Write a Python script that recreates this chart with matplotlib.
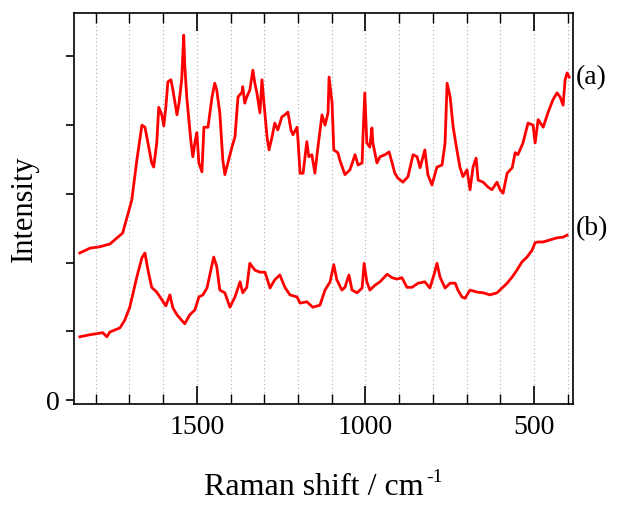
import numpy as np
import matplotlib
matplotlib.use("Agg")
import matplotlib.pyplot as plt
from matplotlib.ticker import MultipleLocator

plt.rcParams['font.family'] = ['Liberation Serif', 'DejaVu Serif']

# spectrum (a): Raman shift (cm-1), intensity
shift_a = [1847, 1817, 1788, 1758, 1720, 1693, 1678, 1663, 1654, 1645, 1634, 1628, 1619, 1613,
           1604, 1598, 1592, 1586, 1577, 1571, 1559, 1553, 1545, 1539, 1536, 1530, 1518, 1512,
           1506, 1500, 1494, 1485, 1479, 1467, 1455, 1447, 1441, 1432, 1423, 1417, 1408, 1396,
           1387, 1378, 1366, 1364, 1358, 1352, 1343, 1334, 1328, 1322, 1313, 1307, 1301, 1292,
           1286, 1277, 1269, 1260, 1248, 1239, 1230, 1221, 1215, 1203, 1200, 1194, 1185, 1174,
           1168, 1159, 1150, 1141, 1129, 1120, 1111, 1108, 1099, 1094, 1082, 1076, 1061, 1046,
           1031, 1022, 1010, 1007, 1002, 996, 987, 981, 978, 966, 957, 942, 930, 921, 913, 904,
           889, 874, 859, 847, 838, 824, 815, 803, 788, 773, 764, 758, 749, 740, 729, 720, 711,
           699, 690, 681, 672, 666, 651, 637, 625, 610, 601, 592, 580, 565, 556, 548, 533, 518,
           503, 497, 488, 473, 459, 444, 432, 423, 414, 408, 402, 396]
int_a = [2.14, 2.21, 2.23, 2.27, 2.43, 2.91, 3.49, 4.00, 3.97, 3.74, 3.45, 3.39, 3.74, 4.26,
         4.15, 3.99, 4.26, 4.63, 4.66, 4.51, 4.15, 4.32, 4.66, 5.31, 4.88, 4.41, 3.78, 3.54,
         3.74, 3.89, 3.45, 3.32, 3.97, 3.97, 4.41, 4.61, 4.51, 4.18, 3.49, 3.28, 3.45, 3.68,
         3.83, 4.41, 4.48, 4.56, 4.32, 4.41, 4.51, 4.80, 4.61, 4.47, 4.18, 4.66, 4.32, 3.83,
         3.64, 3.83, 4.03, 3.93, 4.12, 4.15, 4.19, 3.93, 3.86, 3.97, 3.78, 3.30, 3.30, 3.76,
         3.54, 3.57, 3.30, 3.68, 4.15, 4.00, 4.18, 4.70, 4.32, 3.64, 3.60, 3.49, 3.28, 3.35,
         3.57, 3.42, 3.45, 3.89, 4.47, 3.74, 3.68, 3.96, 3.74, 3.45, 3.54, 3.57, 3.61, 3.45,
         3.30, 3.23, 3.17, 3.25, 3.57, 3.54, 3.38, 3.64, 3.28, 3.13, 3.39, 3.42, 3.74, 4.61,
         4.41, 3.97, 3.64, 3.39, 3.25, 3.35, 3.06, 3.39, 3.52, 3.20, 3.17, 3.10, 3.06, 3.17,
         3.06, 3.01, 3.30, 3.38, 3.60, 3.57, 3.74, 4.03, 4.00, 3.74, 4.08, 3.97, 4.18, 4.37,
         4.47, 4.41, 4.29, 4.66, 4.76, 4.70]

# spectrum (b)
shift_b = [1847, 1817, 1779, 1767, 1758, 1728, 1714, 1699, 1678, 1663, 1654, 1645, 1634, 1619,
           1604, 1592, 1580, 1571, 1559, 1545, 1536, 1521, 1506, 1494, 1482, 1470, 1455, 1450,
           1441, 1432, 1417, 1402, 1387, 1372, 1364, 1352, 1343, 1328, 1313, 1298, 1283, 1269,
           1254, 1239, 1224, 1203, 1194, 1174, 1156, 1135, 1120, 1105, 1094, 1085, 1070, 1061,
           1049, 1040, 1025, 1010, 1004, 996, 987, 972, 957, 936, 921, 907, 892, 877, 862, 844,
           824, 809, 797, 788, 779, 764, 749, 734, 726, 714, 705, 690, 669, 651, 631, 610, 595,
           580, 565, 551, 536, 521, 506, 497, 488, 473, 453, 432, 414, 402]
int_b = [0.92, 0.95, 0.98, 0.92, 0.99, 1.05, 1.16, 1.35, 1.79, 2.07, 2.14, 1.89, 1.64, 1.57,
         1.46, 1.37, 1.53, 1.34, 1.24, 1.16, 1.11, 1.24, 1.31, 1.50, 1.53, 1.63, 1.97, 2.08,
         1.94, 1.60, 1.56, 1.35, 1.50, 1.72, 1.56, 1.64, 1.99, 1.89, 1.86, 1.86, 1.63, 1.75,
         1.82, 1.64, 1.53, 1.50, 1.41, 1.43, 1.35, 1.38, 1.60, 1.72, 1.97, 1.75, 1.60, 1.64,
         1.82, 1.60, 1.56, 1.63, 1.99, 1.72, 1.60, 1.67, 1.72, 1.83, 1.78, 1.76, 1.78, 1.64,
         1.64, 1.70, 1.72, 1.63, 1.82, 1.99, 1.79, 1.63, 1.70, 1.70, 1.60, 1.50, 1.48, 1.60,
         1.57, 1.56, 1.53, 1.56, 1.63, 1.70, 1.79, 1.89, 2.01, 2.08, 2.18, 2.29, 2.30, 2.30,
         2.33, 2.36, 2.37, 2.40]

fig = plt.figure(figsize=(6.2, 5.05), dpi=100)
ax = fig.add_axes([0.119, 0.2, 0.805, 0.774])

ax.plot(shift_a, int_a, color='#ff0000', lw=2.0)
ax.plot(shift_b, int_b, color='#ff0000', lw=2.0)

ax.set_xlim(1865, 385)
ax.set_ylim(-0.058, 5.63)

ax.xaxis.set_major_locator(MultipleLocator(500))
ax.xaxis.set_minor_locator(MultipleLocator(100))
ax.set_yticks(np.arange(0, 6))
ax.set_yticklabels(['0', '', '', '', '', ''])

ax.tick_params(axis='x', which='major', direction='in', length=13, width=1.2,
               top=True, labelsize=20, pad=8)
ax.tick_params(axis='x', which='minor', direction='in', length=7, width=1.0, top=True)
ax.tick_params(axis='y', which='major', direction='out', length=6, width=1.2, labelsize=20, pad=4)
ax.grid(axis='x', which='both', linestyle=(0, (1, 2.5)), color='#b0b0b0', linewidth=0.8)
for s in ax.spines.values():
    s.set_linewidth(1.2)

ax.set_xlabel('Raman shift / cm', fontsize=23, labelpad=24)
ax.xaxis.label.set_x(0.48)
ax.set_ylabel('Intensity', fontsize=22, labelpad=5)

# superscript -1 placed after the label
fig.canvas.draw()
bb = ax.xaxis.label.get_window_extent()
fig.text((bb.x1 + 3) / fig.dpi / 6.2, (bb.y1 - 4) / fig.dpi / 5.05, '-1', fontsize=14,
         ha='left', va='center')

ax.text(1.005, int_a[-1] / 5.688 + 0.01, '(a)', transform=ax.transAxes, fontsize=20,
        va='center', ha='left')
ax.text(1.005, int_b[-1] / 5.688 + 0.028, '(b)', transform=ax.transAxes, fontsize=20,
        va='center', ha='left')

fig.savefig('out.png', dpi=100)
